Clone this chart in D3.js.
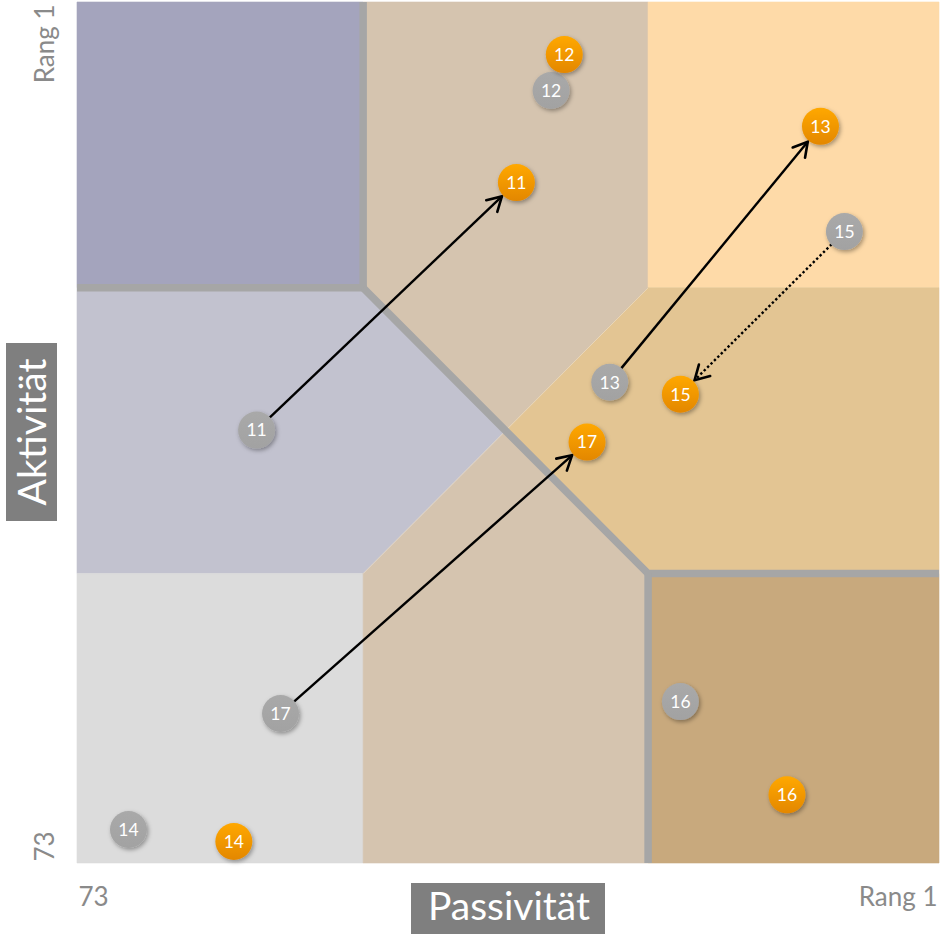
<!DOCTYPE html>
<html>
<head>
<meta charset="utf-8">
<script src="https://cdn.jsdelivr.net/npm/d3@7"></script>
<style>
  html, body { margin: 0; padding: 0; background: #ffffff; }
  svg { display: block; }
</style>
</head>
<body>
<svg id="chart" width="951" height="935"></svg>
<script>
// ---------- data ----------
const players      = ["11", "12", "13", "14", "15", "16", "17"];
// Passivität rank (x) and Aktivität rank (y), before (grey) and after (orange)
const passivBefore = [58.0, 33.4, 28.5, 68.7,  8.9, 22.6, 56.0];
const aktivBefore  = [36.8,  8.4, 32.8, 70.2, 20.2, 59.5, 60.5];
const passivAfter  = [36.3, 32.3, 10.9, 59.9, 22.6, 13.7, 30.4];
const aktivAfter   = [16.1,  5.4, 11.4, 71.2, 33.8, 67.3, 37.8];
const arrowType    = ["solid", null, "solid", null, "dotted", null, "solid"];

const xTickValues = [73, 1];
const xTickLabels = ["73", "Rang 1"];
const yTickValues = [1, 73];
const yTickLabels = ["Rang 1", "73"];

// zone boundaries in rank units
const xBounds = [49.1, 25.3];
const yBounds = [24.9, 48.8];

const xTitle = "Passivität";
const yTitle = "Aktivität";

// ---------- setup ----------
const svg = d3.select("#chart");
const x = d3.scaleLinear().domain([73, 1]).range([77, 939]);
const y = d3.scaleLinear().domain([1, 73]).range([2, 863]);

const defs = svg.append("defs");
const shadow = defs.append("filter").attr("id", "shadow")
  .attr("x", "-40%").attr("y", "-40%").attr("width", "180%").attr("height", "180%");
shadow.append("feDropShadow").attr("dx", 1.5).attr("dy", 2).attr("stdDeviation", 2)
  .attr("flood-color", "#000").attr("flood-opacity", 0.35);

const gOr = defs.append("linearGradient").attr("id", "gradOrange")
  .attr("x1", 0).attr("y1", 0).attr("x2", 0).attr("y2", 1);
gOr.append("stop").attr("offset", "0%").attr("stop-color", "#ffa800");
gOr.append("stop").attr("offset", "100%").attr("stop-color", "#e38700");

const gGr = defs.append("linearGradient").attr("id", "gradGrey")
  .attr("x1", 0).attr("y1", 0).attr("x2", 0).attr("y2", 1);
gGr.append("stop").attr("offset", "0%").attr("stop-color", "#a9a9a9");
gGr.append("stop").attr("offset", "100%").attr("stop-color", "#a2a2a2");

const mk = defs.append("marker").attr("id", "arrowHead")
  .attr("markerUnits", "userSpaceOnUse").attr("viewBox", "-16 -10 20 20")
  .attr("refX", 0).attr("refY", 0).attr("markerWidth", 20).attr("markerHeight", 20)
  .attr("orient", "auto");
mk.append("path").attr("d", "M-14,-8 L0,0 L-14,8")
  .attr("fill", "none").attr("stroke", "#000").attr("stroke-width", 2.6)
  .attr("stroke-linecap", "round").attr("stroke-linejoin", "miter");

// ---------- zones ----------
const [xa, xb] = xBounds;
const [ya, yb] = yBounds;
const xc = (xa + xb) / 2, yc = (ya + yb) / 2;
const zones = [
  { c: "#a4a4bd", p: [[73,1],[xa,1],[xa,ya],[73,ya]] },
  { c: "#d5c4af", p: [[xa,1],[xb,1],[xb,ya],[xc,yc],[xa,ya]] },
  { c: "#fedaa8", p: [[xb,1],[1,1],[1,ya],[xb,ya]] },
  { c: "#c2c2cf", p: [[73,ya],[xa,ya],[xc,yc],[xa,yb],[73,yb]] },
  { c: "#e3c593", p: [[xb,ya],[1,ya],[1,yb],[xb,yb],[xc,yc]] },
  { c: "#dcdcdc", p: [[73,yb],[xa,yb],[xa,73],[73,73]] },
  { c: "#d5c4af", p: [[xa,yb],[xc,yc],[xb,yb],[xb,73],[xa,73]] },
  { c: "#c8a97d", p: [[xb,yb],[1,yb],[1,73],[xb,73]] }
];
const line = d3.line().x(d => x(d[0])).y(d => y(d[1]));
svg.append("g").selectAll("path").data(zones).join("path")
  .attr("d", d => line(d.p) + "Z")
  .attr("fill", d => d.c).attr("stroke", d => d.c).attr("stroke-width", 0.6);

// faint seam along the anti-diagonal
svg.append("path").attr("d", line([[xa,yb],[xb,ya]]))
  .attr("stroke", "#ffffff").attr("stroke-opacity", 0.35).attr("stroke-width", 0.8).attr("fill", "none");

// thick grey separators
const sep = svg.append("g").attr("fill", "none").attr("stroke", "#a6a6a6")
  .attr("stroke-width", 7.5).attr("stroke-linejoin", "miter");
sep.append("path").attr("d", line([[xa,1],[xa,ya],[73,ya]]));
sep.append("path").attr("d", line([[xa,ya],[xb,yb],[1,yb]]));
sep.append("path").attr("d", line([[xb,yb],[xb,73]]));

// ---------- arrows ----------
const R = 19;
const moves = players.map((p, i) => ({
  p, type: arrowType[i],
  x0: x(passivBefore[i]), y0: y(aktivBefore[i]),
  x1: x(passivAfter[i]),  y1: y(aktivAfter[i])
}));
svg.append("g").selectAll("line").data(moves.filter(d => d.type)).join("line")
  .each(function(d) {
    const dx = d.x1 - d.x0, dy = d.y1 - d.y0, L = Math.hypot(dx, dy);
    const ux = dx / L, uy = dy / L;
    d3.select(this)
      .attr("x1", d.x0 + ux * (R - 1)).attr("y1", d.y0 + uy * (R - 1))
      .attr("x2", d.x1 - ux * (R + 1)).attr("y2", d.y1 - uy * (R + 1));
  })
  .attr("stroke", "#000").attr("stroke-width", 2.4)
  .attr("stroke-dasharray", d => d.type === "dotted" ? "2.4,2.4" : null)
  .attr("marker-end", "url(#arrowHead)");

// ---------- points ----------
function drawPoints(xs, ys, fill) {
  const g = svg.append("g").selectAll("g").data(players).join("g")
    .attr("transform", (d, i) => `translate(${x(xs[i])},${y(ys[i])})`);
  g.append("circle").attr("r", 18.5).attr("fill", fill).attr("filter", "url(#shadow)");
  g.append("text").text(d => d)
    .attr("text-anchor", "middle").attr("dy", "0.36em")
    .attr("fill", "#ffffff").attr("font-family", "Lato, 'Open Sans', sans-serif")
    .attr("font-size", 17.5);
}
drawPoints(passivBefore, aktivBefore, "url(#gradGrey)");
drawPoints(passivAfter, aktivAfter, "url(#gradOrange)");

// ---------- axes ----------
const axisFont = "Lato, 'Open Sans', sans-serif";
const xAxis = svg.append("g").attr("transform", `translate(0,${y(73)})`)
  .call(d3.axisBottom(x).tickValues(xTickValues).tickFormat((d, i) => xTickLabels[i]).tickSize(0));
xAxis.select(".domain").remove();
xAxis.selectAll("text")
  .attr("y", 43).attr("dy", 0)
  .attr("font-family", axisFont).attr("font-size", 26).attr("fill", "#8a8a8a")
  .attr("text-anchor", (d, i) => i === 0 ? "start" : "end")
  .attr("dx", (d, i) => i === 0 ? 1 : -2);

const yAxis = svg.append("g").attr("transform", `translate(${x(73)},0)`)
  .call(d3.axisLeft(y).tickValues(yTickValues).tickFormat((d, i) => yTickLabels[i]).tickSize(0));
yAxis.select(".domain").remove();
yAxis.selectAll("text")
  .attr("transform", "rotate(-90)")
  .attr("x", (d, i) => i === 0 ? -2 : 2).attr("y", -23).attr("dy", 0).attr("dx", 0)
  .attr("font-family", axisFont).attr("font-size", 26).attr("fill", "#8a8a8a")
  .attr("text-anchor", (d, i) => i === 0 ? "end" : "start");

// ---------- axis titles ----------
svg.append("rect").attr("x", 411).attr("y", 883).attr("width", 194).attr("height", 51).attr("fill", "#7f7f7f");
svg.append("text").attr("x", 509).attr("y", 920).attr("text-anchor", "middle")
  .attr("font-family", axisFont).attr("font-size", 39).attr("fill", "#ffffff").text(xTitle);

svg.append("rect").attr("x", 6).attr("y", 343).attr("width", 51).attr("height", 178).attr("fill", "#7f7f7f");
svg.append("text").attr("transform", "translate(46,432) rotate(-90)").attr("text-anchor", "middle")
  .attr("font-family", axisFont).attr("font-size", 39).attr("fill", "#ffffff").text(yTitle);
</script>
</body>
</html>
